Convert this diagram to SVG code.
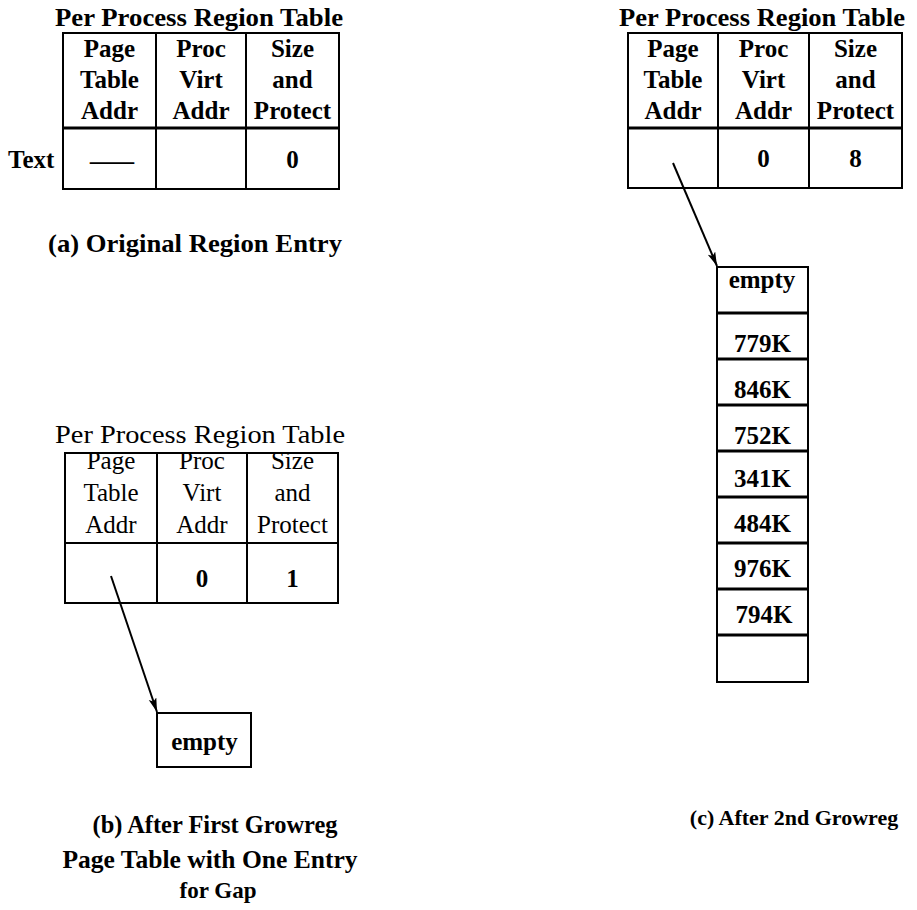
<svg xmlns="http://www.w3.org/2000/svg" width="917" height="910" viewBox="0 0 917 910">
<style>
.t{font-family:"Liberation Serif","Times New Roman",serif;font-size:25px;text-anchor:middle;fill:#000}
.b{font-weight:bold}
.s{text-anchor:start}
.ln{stroke:#000;stroke-width:2;fill:none}
.hd{stroke:#000;stroke-width:3;fill:none}
</style>
<defs>
<marker id="arr" markerUnits="userSpaceOnUse" markerWidth="16" markerHeight="10" refX="14" refY="4" orient="auto">
<path d="M0,0 L14,4 L0,8 L3,4 z" fill="#000"/>
</marker>
</defs>
<rect width="917" height="910" fill="#fff"/>

<g id="table-a">
<text class="t b" x="199" y="26" textLength="288" lengthAdjust="spacingAndGlyphs">Per Process Region Table</text>
<rect class="ln" x="63" y="33" width="276" height="156"/>
<line class="ln" x1="156" y1="33" x2="156" y2="189"/>
<line class="ln" x1="246" y1="33" x2="246" y2="189"/>
<line class="hd" x1="63" y1="128" x2="339" y2="128"/>
<text class="t b" x="109.5" y="57">Page</text>
<text class="t b" x="201" y="57">Proc</text>
<text class="t b" x="292.5" y="57">Size</text>
<text class="t b" x="109.5" y="88">Table</text>
<text class="t b" x="201" y="88">Virt</text>
<text class="t b" x="292.5" y="88">and</text>
<text class="t b" x="109.5" y="119">Addr</text>
<text class="t b" x="201" y="119">Addr</text>
<text class="t b" x="292.5" y="119">Protect</text>
<text class="t b s" x="8" y="168">Text</text>
<text class="t b" x="112" y="169" textLength="44" lengthAdjust="spacingAndGlyphs">—</text>
<text class="t b" x="292.5" y="168">0</text>
<text class="t b" x="195" y="252" textLength="294" lengthAdjust="spacingAndGlyphs">(a) Original Region Entry</text>
</g>

<g id="table-c">
<text class="t b" x="762" y="26" textLength="286" lengthAdjust="spacingAndGlyphs">Per Process Region Table</text>
<rect class="ln" x="628" y="33" width="274" height="155"/>
<line class="ln" x1="718" y1="33" x2="718" y2="188"/>
<line class="ln" x1="809" y1="33" x2="809" y2="188"/>
<line class="hd" x1="628" y1="128" x2="902" y2="128"/>
<text class="t b" x="673" y="57">Page</text>
<text class="t b" x="763.5" y="57">Proc</text>
<text class="t b" x="855.5" y="57">Size</text>
<text class="t b" x="673" y="88">Table</text>
<text class="t b" x="763.5" y="88">Virt</text>
<text class="t b" x="855.5" y="88">and</text>
<text class="t b" x="673" y="119">Addr</text>
<text class="t b" x="763.5" y="119">Addr</text>
<text class="t b" x="855.5" y="119">Protect</text>
<text class="t b" x="763.5" y="167">0</text>
<text class="t b" x="855.5" y="167">8</text>
</g>

<g id="page-table-c">
<rect class="ln" x="717" y="267" width="91" height="415"/>
<line class="hd" x1="717" y1="313" x2="808" y2="313"/>
<line class="hd" x1="717" y1="359" x2="808" y2="359"/>
<line class="hd" x1="717" y1="405" x2="808" y2="405"/>
<line class="hd" x1="717" y1="451" x2="808" y2="451"/>
<line class="hd" x1="717" y1="497" x2="808" y2="497"/>
<line class="hd" x1="717" y1="543" x2="808" y2="543"/>
<line class="hd" x1="717" y1="589" x2="808" y2="589"/>
<line class="hd" x1="717" y1="635" x2="808" y2="635"/>
<text class="t b" x="762" y="288">empty</text>
<text class="t b" x="762.5" y="352">779K</text>
<text class="t b" x="762.5" y="398">846K</text>
<text class="t b" x="762.5" y="444">752K</text>
<text class="t b" x="762.5" y="487">341K</text>
<text class="t b" x="762.5" y="532">484K</text>
<text class="t b" x="762.5" y="577">976K</text>
<text class="t b" x="764" y="623">794K</text>
<text class="t b" x="794" y="825" style="font-size:22px">(c) After 2nd Growreg</text>
</g>

<g id="table-b">
<text class="t" x="200" y="443" textLength="290" lengthAdjust="spacingAndGlyphs">Per Process Region Table</text>
<rect class="ln" x="65" y="453" width="273" height="150"/>
<line class="ln" x1="157" y1="453" x2="157" y2="603"/>
<line class="ln" x1="247" y1="453" x2="247" y2="603"/>
<line class="ln" x1="65" y1="543" x2="338" y2="543"/>
<text class="t" x="111" y="469">Page</text>
<text class="t" x="202" y="469">Proc</text>
<text class="t" x="292.5" y="469">Size</text>
<text class="t" x="111" y="501">Table</text>
<text class="t" x="202" y="501">Virt</text>
<text class="t" x="292.5" y="501">and</text>
<text class="t" x="111" y="533">Addr</text>
<text class="t" x="202" y="533">Addr</text>
<text class="t" x="292.5" y="533">Protect</text>
<text class="t b" x="202" y="587">0</text>
<text class="t b" x="292.5" y="587">1</text>
</g>

<g id="page-table-b">
<rect class="ln" x="157" y="713" width="94" height="54"/>
<text class="t b" x="204.5" y="750">empty</text>
<text class="t b" x="215" y="833" textLength="245" lengthAdjust="spacingAndGlyphs">(b) After First Growreg</text>
<text class="t b" x="210" y="868" textLength="295" lengthAdjust="spacingAndGlyphs">Page Table with One Entry</text>
<text class="t b" x="218" y="898" style="font-size:23px">for Gap</text>
</g>

<g id="connectors">
<line class="ln" x1="111" y1="576" x2="157" y2="712" marker-end="url(#arr)"/>
<line class="ln" x1="673" y1="163" x2="717" y2="266" marker-end="url(#arr)"/>
</g>
</svg>
